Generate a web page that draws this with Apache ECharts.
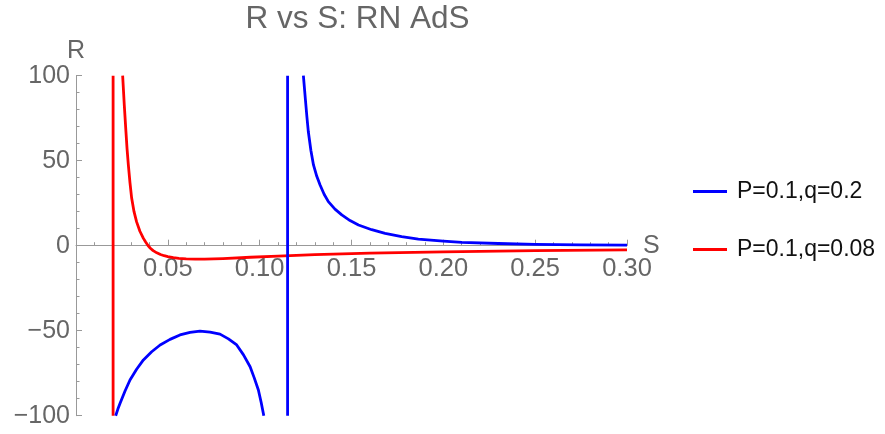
<!DOCTYPE html>
<html>
<head>
<meta charset="utf-8">
<script src="https://cdn.jsdelivr.net/npm/echarts@6/dist/echarts.min.js"></script>
<style>
html,body{margin:0;padding:0;background:#fff;}
#chart{width:885px;height:434px;}
</style>
</head>
<body>
<div id="chart"></div>
<script>
// Series names
const seriesNames = ['P=0.1,q=0.2', 'P=0.1,q=0.08'];

// Blue curve (q=0.2): left arch branch
const blueArchS = [0.0216, 0.0228, 0.0240, 0.0267, 0.0294, 0.0330, 0.0367, 0.0412, 0.0458, 0.0512, 0.0566, 0.0621, 0.0675, 0.0730, 0.0784, 0.0830, 0.0875, 0.0912, 0.0948, 0.0970, 0.0993, 0.1008, 0.10225];
const blueArchR = [-100, -96.1, -92.7, -85.5, -79, -72.7, -67.2, -62.4, -58.4, -55.1, -52.5, -51.0, -50.2, -50.8, -52, -54.8, -58.4, -64.2, -71.2, -77.6, -84.9, -92.1, -100];
// Blue jump (pole) joining line
const blueJumpS = [0.1152, 0.1152];
const blueJumpR = [-100, 100];
// Blue right branch
const blueRightS = [0.1238, 0.1249, 0.1257, 0.1265, 0.1279, 0.1293, 0.1311, 0.1329, 0.1351, 0.1374, 0.1410, 0.1447, 0.1492, 0.1538, 0.1610, 0.1683, 0.1773, 0.1864, 0.2000, 0.2101, 0.2300, 0.2500, 0.2750, 0.3000];
const blueRightR = [100, 86, 76, 67, 56, 47.5, 40.8, 35.7, 30.3, 25.9, 21.5, 18.1, 14.8, 12.2, 9.4, 7.3, 5.4, 3.9, 2.7, 2.0, 1.3, 0.8, 0.5, 0.3];

// Red curve (q=0.08): jump line and right branch
const redJumpS = [0.0202, 0.0202];
const redJumpR = [-100, 100];
const redRightS = [0.0254, 0.0263, 0.0272, 0.0278, 0.0285, 0.0294, 0.0303, 0.0316, 0.0330, 0.0348, 0.0367, 0.0380, 0.0392, 0.0405, 0.0420, 0.0440, 0.0460, 0.0480, 0.0500, 0.0530, 0.0560, 0.0600, 0.0650, 0.0700, 0.0800, 0.0950, 0.1100, 0.1300, 0.1600, 0.2000, 0.2500, 0.3000];
const redRightR = [100, 82.5, 67, 57, 47.5, 37, 28, 20, 14, 8.5, 4.3, 2.0, 0.1, -1.5, -2.9, -4.2, -5.2, -5.9, -6.4, -7.0, -7.4, -7.7, -7.85, -7.85, -7.55, -6.8, -6.1, -5.3, -4.4, -3.6, -2.9, -2.4];

// Axis ticks
const xTicks = [0, 0.05, 0.10, 0.15, 0.20, 0.25, 0.30];
const yTicks = [-100, -50, 0, 50, 100];

const zip = (a, b) => a.map((v, i) => [v, b[i]]);

const chart = echarts.init(document.getElementById('chart'), null, {renderer: 'canvas'});
const FONT = '"Liberation Sans", Arial, sans-serif';
const axisGray = '#999999';
const labelGray = '#666666';
const BLUE = '#0000ff';
const RED = '#ff0000';

const GRID_TOP = 75.7, GRID_BOTTOM_PX = 415.7;
const plotH = GRID_BOTTOM_PX - GRID_TOP;
// distance from bottom of plot to the R=0 line (axis crossing)
const zeroOffset = plotH * (0 - yTicks[0]) / (yTicks[yTicks.length - 1] - yTicks[0]);

function lineSeries(name, s, r, color, z) {
  return {
    name: name,
    type: 'line',
    data: zip(s, r),
    showSymbol: false,
    symbol: 'none',
    smooth: false,
    clip: true,
    z: z,
    lineStyle: {color: color, width: 2.8, join: 'round', cap: 'butt'},
    itemStyle: {color: color}
  };
}

chart.setOption({
  animation: false,
  title: {
    text: 'R vs S: RN AdS',
    left: 352.5,
    textAlign: 'center',
    top: -2,
    textStyle: {fontFamily: FONT, fontSize: 31.5, fontWeight: 'normal', color: labelGray}
  },
  legend: {
    orient: 'vertical',
    left: 688,
    top: 175,
    itemWidth: 34,
    itemHeight: 3,
    itemGap: 35,
    icon: 'rect',
    data: seriesNames,
    textStyle: {fontFamily: FONT, fontSize: 23, color: '#111111', padding: [0, 0, 0, 5]}
  },
  grid: {left: 76, right: 258, top: GRID_TOP, bottom: 434 - GRID_BOTTOM_PX, containLabel: false, outerBoundsMode: 'none'},
  xAxis: {
    type: 'value',
    position: 'bottom',
    offset: -zeroOffset,
    min: xTicks[0],
    max: xTicks[xTicks.length - 1],
    interval: 0.05,
    name: 'S',
    nameLocation: 'end',
    nameGap: 16,
    nameMoveOverlap: false,
    nameTextStyle: {fontFamily: FONT, fontSize: 25, color: labelGray, padding: [0, 0, 8, 0]},
    axisLine: {onZero: false, lineStyle: {color: axisGray, width: 1}},
    axisTick: {show: true, inside: true, length: 6, lineStyle: {color: axisGray}},
    minorTick: {show: true, splitNumber: 5, length: 3.5, lineStyle: {color: axisGray}},
    axisLabel: {
      fontFamily: FONT, fontSize: 25.5, color: labelGray, margin: 10,
      formatter: v => (Math.abs(v) < 1e-9 ? '' : v.toFixed(2))
    },
    splitLine: {show: false}
  },
  yAxis: {
    type: 'value',
    position: 'left',
    min: yTicks[0],
    max: yTicks[yTicks.length - 1],
    interval: 50,
    name: 'R',
    nameLocation: 'end',
    nameGap: 12,
    nameMoveOverlap: false,
    nameTextStyle: {fontFamily: FONT, fontSize: 25, color: labelGray, align: 'center'},
    axisLine: {onZero: false, lineStyle: {color: axisGray, width: 1}},
    axisTick: {show: true, inside: true, length: 6, lineStyle: {color: axisGray}},
    minorTick: {show: true, splitNumber: 5, length: 3.5, lineStyle: {color: axisGray}},
    axisLabel: {
      fontFamily: FONT, fontSize: 25, color: labelGray, margin: 6,
      formatter: v => (v < 0 ? '\u2212' + Math.abs(v) : String(v))
    },
    splitLine: {show: false}
  },
  series: [
    lineSeries(seriesNames[0], blueArchS, blueArchR, BLUE, 3),
    lineSeries(seriesNames[0], blueJumpS, blueJumpR, BLUE, 3),
    lineSeries(seriesNames[0], blueRightS, blueRightR, BLUE, 3),
    lineSeries(seriesNames[1], redJumpS, redJumpR, RED, 2),
    lineSeries(seriesNames[1], redRightS, redRightR, RED, 2)
  ]
});
</script>
</body>
</html>
